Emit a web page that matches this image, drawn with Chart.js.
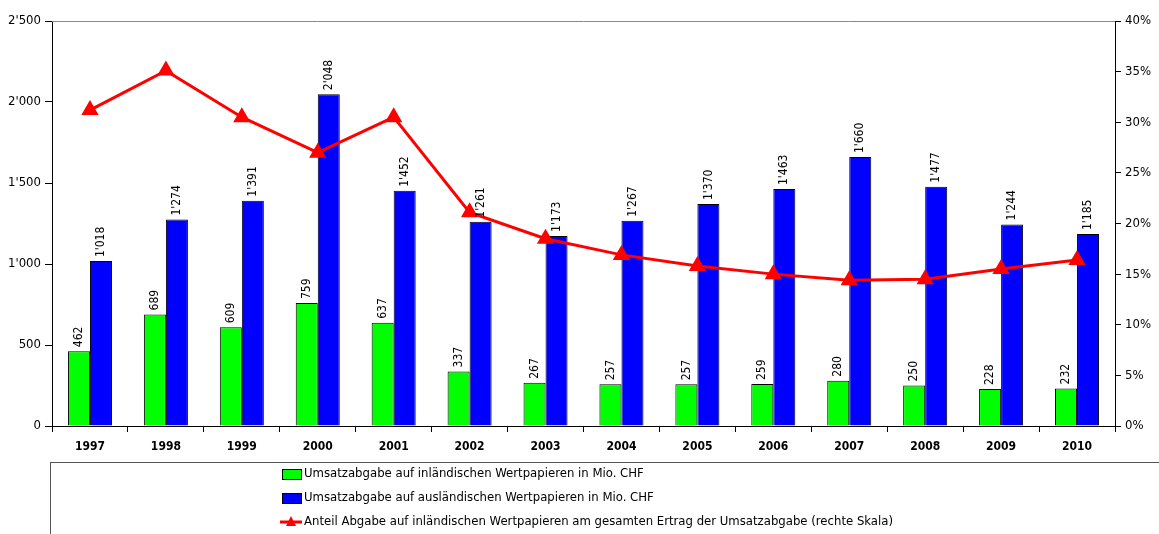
<!DOCTYPE html>
<html>
<head>
<meta charset="utf-8">
<script src="https://cdn.jsdelivr.net/npm/chart.js@4/dist/chart.umd.min.js"></script>
<style>
  body { margin: 0; background: #fff; }
  #wrap { width: 1159px; height: 534px; }
</style>
</head>
<body>
<div id="wrap"><canvas id="umsatz_chart" width="1159" height="534"></canvas></div>
<script>
      const years = ['1997', '1998', '1999', '2000', '2001', '2002', '2003', '2004', '2005', '2006', '2007', '2008', '2009', '2010'];
      const inland = [462, 689, 609, 759, 637, 337, 267, 257, 257, 259, 280, 250, 228, 232];
      const ausland = [1018, 1274, 1391, 2048, 1452, 1261, 1173, 1267, 1370, 1463, 1660, 1477, 1244, 1185];
      const anteil = [31.2, 35.1, 30.5, 27.0, 30.5, 21.1, 18.5, 16.9, 15.8, 15.0, 14.4, 14.5, 15.5, 16.4];
      const legendLabels = [
        'Umsatzabgabe auf inländischen Wertpapieren in Mio. CHF',
        'Umsatzabgabe auf ausländischen Wertpapieren in Mio. CHF',
        'Anteil Abgabe auf inländischen Wertpapieren am gesamten Ertrag der Umsatzabgabe (rechte Skala)'
      ];

      const FONT = '"Liberation Sans Narrow", "Arial Narrow", "DejaVu Sans Condensed", sans-serif';

      // 1'018 style numbers
      function fmt(n) {
        if (n >= 1000) {
          return Math.floor(n / 1000) + "'" + String(n % 1000).padStart(3, '0');
        }
        return String(n);
      }

      // value labels above the bars, rotated
      const barLabels = {
        id: 'barLabels',
        afterDatasetsDraw(chart) {
          const ctx = chart.ctx;
          ctx.save();
          ctx.font = '12px ' + FONT;
          ctx.fillStyle = '#000';
          ctx.textAlign = 'left';
          ctx.textBaseline = 'middle';
          chart.data.datasets.forEach((ds, i) => {
            if (ds.type !== 'bar') return;
            chart.getDatasetMeta(i).data.forEach((bar, j) => {
              ctx.save();
              ctx.translate(bar.x, bar.y - 4);
              ctx.rotate(-Math.PI / 2);
              ctx.fillText(fmt(ds.data[j]), 0, 0);
              ctx.restore();
            });
          });
          ctx.restore();
        }
      };

      // top frame line + legend box at the bottom
      const frameAndLegend = {
        id: 'frameAndLegend',
        afterDraw(chart) {
          const ctx = chart.ctx;
          const area = chart.chartArea;
          ctx.save();
          ctx.strokeStyle = '#888';
          ctx.lineWidth = 1;
          ctx.beginPath();
          ctx.moveTo(area.left, Math.round(area.top) + 0.5);
          ctx.lineTo(area.right, Math.round(area.top) + 0.5);
          ctx.stroke();

          ctx.strokeStyle = '#555';
          ctx.strokeRect(50.5, 462.5, 1200, 100);

          ctx.font = '13px ' + FONT;
          ctx.textBaseline = 'middle';
          ctx.textAlign = 'left';
          const rows = [474, 498, 522];
          chart.data.datasets.forEach((ds, i) => {
            const y = rows[i];
            if (ds.type === 'bar') {
              ctx.fillStyle = ds.backgroundColor;
              ctx.fillRect(282, y - 5, 19, 10);
              ctx.strokeStyle = '#000';
              ctx.strokeRect(282.5, y - 4.5, 19, 10);
            } else {
              ctx.strokeStyle = ds.borderColor;
              ctx.lineWidth = 3;
              ctx.beginPath();
              ctx.moveTo(280, y);
              ctx.lineTo(302, y);
              ctx.stroke();
              ctx.fillStyle = ds.borderColor;
              ctx.beginPath();
              ctx.moveTo(291, y - 6);
              ctx.lineTo(296, y + 4);
              ctx.lineTo(286, y + 4);
              ctx.closePath();
              ctx.fill();
              ctx.lineWidth = 1;
            }
            ctx.fillStyle = '#000';
            ctx.fillText(ds.label, 304, y);
          });
          ctx.restore();
        }
      };

      const ctx = document.getElementById('umsatz_chart').getContext('2d');
      const chart = new Chart(ctx, {
        data: {
          labels: years,
          datasets: [{
            type: 'bar',
            label: legendLabels[0],
            data: inland,
            backgroundColor: '#00ff00',
            borderColor: '#000',
            borderWidth: 1,
            yAxisID: 'y',
            order: 1
          }, {
            type: 'bar',
            label: legendLabels[1],
            data: ausland,
            backgroundColor: '#0000ff',
            borderColor: '#000',
            borderWidth: 1,
            yAxisID: 'y',
            order: 1
          }, {
            type: 'line',
            label: legendLabels[2],
            data: anteil,
            borderColor: '#ff0000',
            backgroundColor: '#ff0000',
            borderWidth: 3,
            pointStyle: 'triangle',
            pointRadius: 7,
            pointHoverRadius: 7,
            tension: 0,
            yAxisID: 'y2',
            order: 0
          }]
        },
        options: {
          responsive: false,
          animation: false,
          layout: { padding: { top: 21, bottom: 72, left: 0, right: 0 } },
          datasets: {
            bar: { barPercentage: 1, categoryPercentage: 0.58 }
          },
          plugins: {
            legend: { display: false },
            tooltip: { enabled: false }
          },
          scales: {
            x: {
              grid: { offset: true, drawOnChartArea: false, tickLength: 6, color: '#000' },
              border: { color: '#000', width: 1 },
              ticks: { color: '#000', font: { family: FONT, size: 12, weight: 'bold' }, padding: 8 },
              afterFit(scale) { scale.height = 36; }
            },
            y: {
              position: 'left',
              min: 0,
              max: 2500,
              grid: { drawOnChartArea: false, tickLength: 7, color: '#000' },
              border: { color: '#000', width: 1 },
              ticks: { stepSize: 500, color: '#000', font: { family: FONT, size: 13 }, padding: 4, callback: v => fmt(v) },
              afterFit(scale) { scale.width = 52; }
            },
            y2: {
              position: 'right',
              min: 0,
              max: 40,
              grid: { drawOnChartArea: false, tickLength: 6, color: '#000' },
              border: { color: '#000', width: 1 },
              ticks: { stepSize: 5, color: '#000', font: { family: FONT, size: 13 }, padding: 4, callback: v => v + '%' },
              afterFit(scale) { scale.width = 44; }
            }
          }
        },
        plugins: [barLabels, frameAndLegend]
      });
</script>
</body>
</html>
